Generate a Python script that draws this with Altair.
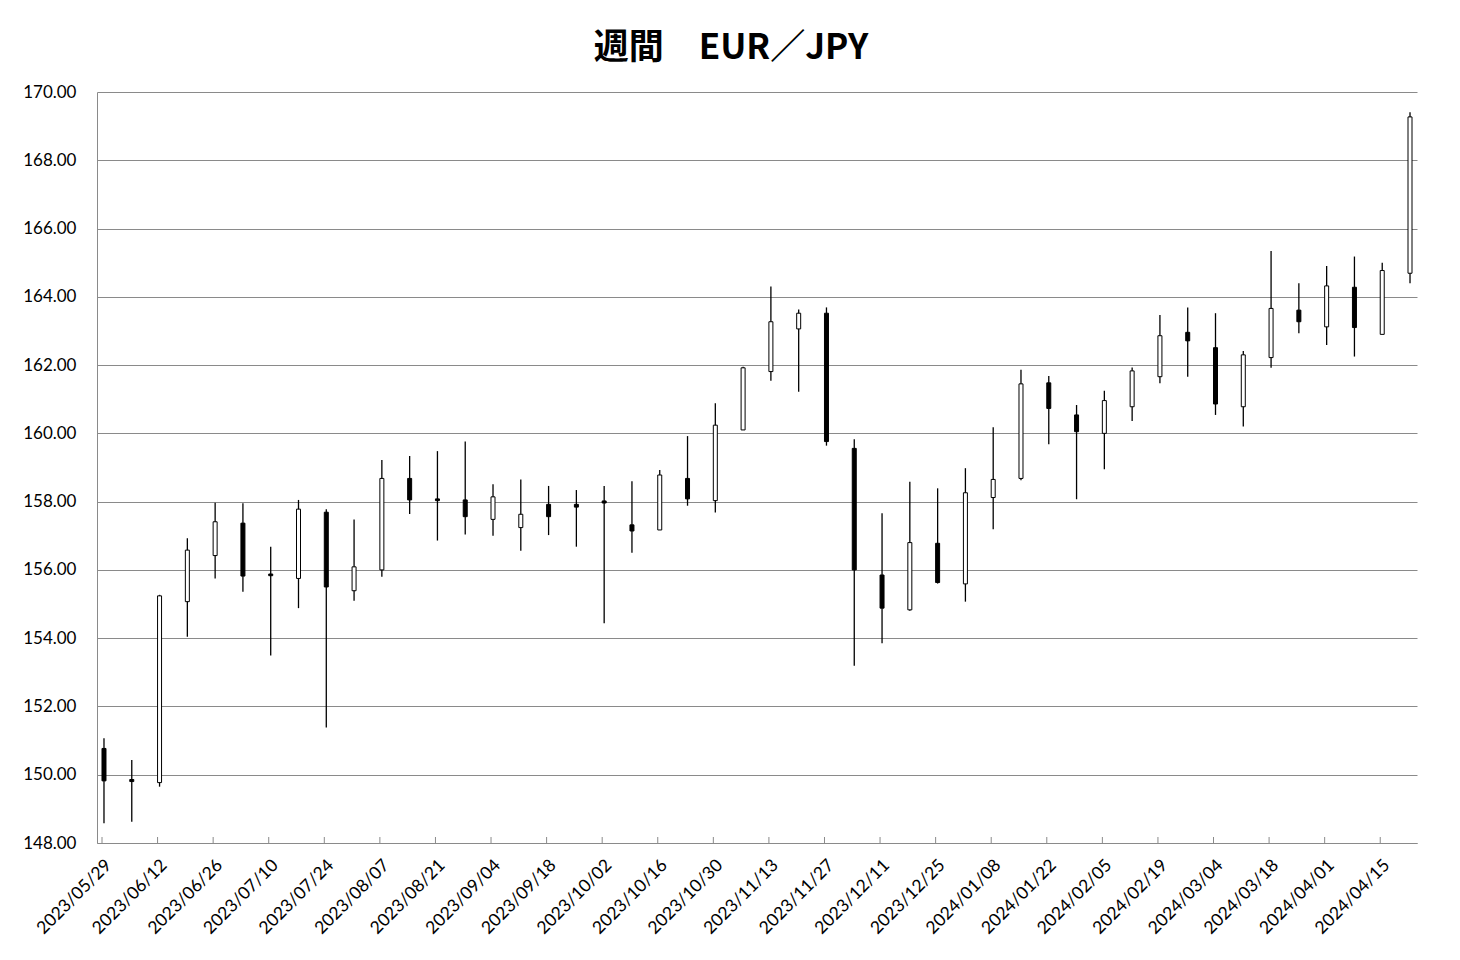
import altair as alt
import numpy as np
import pandas as pd

week_labels = [
    "2023/05/29", "2023/06/05", "2023/06/12", "2023/06/19", "2023/06/26", "2023/07/03",
    "2023/07/10", "2023/07/17", "2023/07/24", "2023/07/31", "2023/08/07", "2023/08/14",
    "2023/08/21", "2023/08/28", "2023/09/04", "2023/09/11", "2023/09/18", "2023/09/25",
    "2023/10/02", "2023/10/09", "2023/10/16", "2023/10/23", "2023/10/30", "2023/11/06",
    "2023/11/13", "2023/11/20", "2023/11/27", "2023/12/04", "2023/12/11", "2023/12/18",
    "2023/12/25", "2024/01/01", "2024/01/08", "2024/01/15", "2024/01/22", "2024/01/29",
    "2024/02/05", "2024/02/12", "2024/02/19", "2024/02/26", "2024/03/04", "2024/03/11",
    "2024/03/18", "2024/03/25", "2024/04/01", "2024/04/08", "2024/04/15", "2024/04/22",
]
open_ = [
    150.77, 149.86, 149.77, 155.07, 156.42, 157.37, 155.88, 155.75, 157.69, 155.39, 156.00, 158.68,
    158.08, 158.05, 157.48, 157.24, 157.92, 157.92, 158.02, 157.32, 157.17, 158.68, 158.03, 160.10,
    161.81, 163.06, 163.52, 159.56, 155.85, 154.83, 156.78, 155.59, 158.12, 158.68, 161.48, 160.54,
    160.00, 160.78, 161.66, 162.96, 162.51, 160.78, 162.22, 163.61, 163.12, 164.28, 162.90, 164.69,
]
high = [
    151.07, 150.43, 155.27, 156.93, 157.97, 157.95, 156.68, 158.05, 157.78, 157.48, 159.22, 159.34,
    159.48, 159.76, 158.51, 158.65, 158.46, 158.34, 158.46, 158.60, 158.93, 159.92, 160.88, 161.95,
    164.30, 163.63, 163.69, 159.83, 157.66, 158.58, 158.39, 158.98, 160.18, 161.86, 161.68, 160.83,
    161.25, 161.93, 163.47, 163.69, 163.52, 162.41, 165.34, 164.40, 164.90, 165.18, 165.00, 169.41,
]
low = [
    148.58, 148.62, 149.65, 154.04, 155.75, 155.36, 153.49, 154.88, 151.38, 155.10, 155.80, 157.64,
    156.86, 157.04, 157.00, 156.56, 157.02, 156.68, 154.44, 156.50, 157.17, 157.88, 157.68, 160.10,
    161.54, 161.22, 159.64, 153.19, 153.85, 154.80, 155.60, 155.07, 157.19, 158.63, 159.68, 158.07,
    158.95, 160.36, 161.47, 161.66, 160.54, 160.20, 161.92, 162.93, 162.59, 162.25, 162.90, 164.40,
]
close = [
    149.82, 149.80, 155.24, 156.58, 157.41, 155.82, 155.83, 157.78, 155.50, 156.09, 158.68, 158.05,
    158.03, 157.56, 158.14, 157.63, 157.56, 157.84, 157.96, 157.14, 158.78, 158.08, 160.24, 161.92,
    163.27, 163.52, 159.76, 156.00, 154.88, 156.80, 155.63, 158.26, 158.65, 161.45, 160.73, 160.05,
    160.96, 161.83, 162.86, 162.71, 160.86, 162.30, 163.66, 163.27, 164.32, 163.10, 164.77, 169.27,
]
y_ticks = [148, 150, 152, 154, 156, 158, 160, 162, 164, 166, 168, 170]
title_text = "週間　EUR／JPY"

dates = pd.to_datetime(pd.Series(week_labels), format="%Y/%m/%d")
start = dates.iloc[0]
df = pd.DataFrame({
    "week": week_labels,
    "open": open_,
    "high": high,
    "low": low,
    "close": close,
})
df["day"] = (dates - start).dt.days + 0.5
df["dir"] = np.where(np.array(close) >= np.array(open_), "up", "down")

tick_labels = week_labels[::2]
tick_days = [int((pd.to_datetime(w, format="%Y/%m/%d") - start).days) for w in tick_labels]
ticks_df = pd.DataFrame({"day": tick_days})
end_day = int((dates.iloc[-1] - start).days) + 1

label_js = "[" + ",".join("'" + w + "'" for w in tick_labels) + "]"
label_expr = label_js + "[round(datum.value / 14)]"

GRID = "#8a8a8a"
W, H = 1320, 751

x_enc = alt.X(
    "day:Q",
    scale=alt.Scale(domain=[0, end_day], nice=False, zero=False),
    axis=alt.Axis(
        values=tick_days,
        labelExpr=label_expr,
        grid=False,
        ticks=False,
        domainColor=GRID,
        labelAngle=-45,
        labelFont="Lato",
        labelFontSize=17.5,
        labelColor="black",
        labelPadding=13,
        labelFlush=False,
        labelOverlap=False,
        title="",
    ),
)

y_axis = alt.Axis(
    values=y_ticks,
    format=".2f",
    grid=True,
    gridColor=GRID,
    gridWidth=1,
    tickSize=0,
    labelPadding=21,
    domainColor=GRID,
    labelFont="Lato",
    labelFontSize=17,
    labelColor="black",
    title="",
)
y_scale = alt.Scale(domain=[148, 170], nice=False, zero=False)

base = alt.Chart(df)

wicks = base.mark_rule(color="black", strokeWidth=1.3).encode(
    x=x_enc,
    y=alt.Y("low:Q", scale=y_scale, axis=y_axis),
    y2="high:Q",
)

bodies = base.mark_bar(size=4, stroke="black", strokeWidth=1).encode(
    x=x_enc,
    y=alt.Y("open:Q", scale=y_scale, axis=y_axis),
    y2="close:Q",
    fill=alt.Fill("dir:N", scale=alt.Scale(domain=["up", "down"], range=["white", "black"]), legend=None),
)

xticks = alt.Chart(ticks_df).mark_rule(color=GRID, strokeWidth=1).encode(
    x=x_enc,
    y=alt.value(H - 6),
    y2=alt.value(H),
)

chart = (
    alt.layer(xticks, wicks, bodies)
    .properties(
        width=W,
        height=H,
        autosize=alt.AutoSizeParams(type="none"),
        padding={"left": 97, "top": 92, "right": 43, "bottom": 117},
        title=alt.TitleParams(
            title_text,
            font="Noto Sans CJK JP",
            fontSize=35,
            fontWeight="bold",
            color="black",
            anchor="middle",
            dx=-26,
            offset=17,
        ),
        background="white",
    )
    .configure_view(strokeWidth=0)
)

chart.save("out.html", embed_options={"renderer": "svg", "actions": False})
